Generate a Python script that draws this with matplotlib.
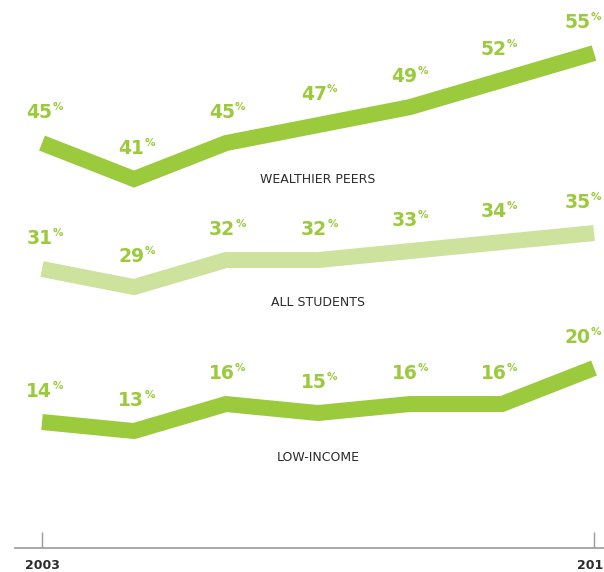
import numpy as np
import matplotlib.pyplot as plt

years = [2003, 2005, 2007, 2009, 2011, 2013, 2015]
wealthier = [45, 41, 45, 47, 49, 52, 55]
all_students = [31, 29, 32, 32, 33, 34, 35]
low_income = [14, 13, 16, 15, 16, 16, 20]
series_names = ['WEALTHIER PEERS', 'ALL STUDENTS', 'LOW-INCOME']
name_levels = [41.0, 27.3, 10.1]
tick_years = [2003, 2015]

GREEN = '#9bca3c'
LIGHT = '#cde29c'
DARK = '#2b2b2b'

fig = plt.figure(figsize=(6.04, 5.72), dpi=100)
ax = fig.add_axes([15 / 604, 24 / 572, 589 / 604, 548 / 572])
ax.set_xlim(2002.413, 2015.217)
ax.set_ylim(0, 60.9)

# nudge the labels left a little, the last column more so it stays inside
label_dx = [-2, -2, -3, -3, -4, -6, -12]

for vals, col in [(wealthier, GREEN), (all_students, LIGHT), (low_income, GREEN)]:
    ax.plot(years, vals, color=col, lw=11.5, solid_capstyle='butt',
            solid_joinstyle='miter', zorder=2)
    for x, v, dx in zip(years, vals, label_dx):
        num = ax.annotate(str(v), (x, v), xytext=(dx, 18), textcoords='offset points',
                          ha='center', va='baseline', color=GREEN,
                          fontsize=13.5, fontweight='heavy', family='DejaVu Sans',
                          annotation_clip=False)
        ax.annotate('%', xy=(1, 1), xycoords=num, xytext=(0.2, 0.5),
                    textcoords='offset points', ha='left', va='top',
                    color=GREEN, fontsize=7.5, fontweight='bold', family='DejaVu Sans',
                    annotation_clip=False)

for name, lvl in zip(series_names, name_levels):
    ax.text(2009, lvl, name, ha='center', va='center', color=DARK,
            fontsize=9, family='DejaVu Sans')

for side in ['top', 'right', 'left']:
    ax.spines[side].set_visible(False)
ax.spines['bottom'].set_color('#9a9a9a')
ax.spines['bottom'].set_linewidth(1.2)
ax.set_yticks([])
ax.set_xticks(tick_years)
ax.set_xticklabels([str(y) for y in tick_years], fontsize=9, fontweight='bold',
                   color=DARK, family='DejaVu Sans')
ax.tick_params(axis='x', direction='in', length=11.5, width=1, color='#9a9a9a', pad=8)
for lbl in ax.get_xticklabels():
    lbl.set_clip_on(False)

fig.savefig('out.png', dpi=100)
